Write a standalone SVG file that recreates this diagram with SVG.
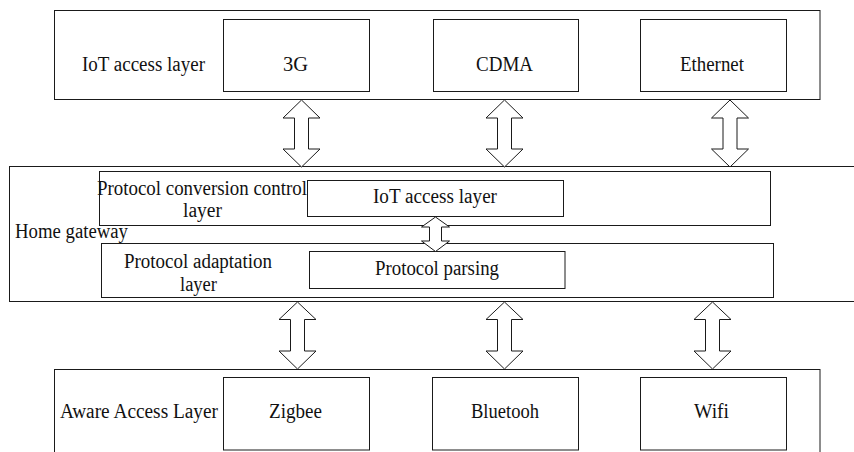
<svg xmlns="http://www.w3.org/2000/svg" width="854" height="452" viewBox="0 0 854 452">
<style>
.box{fill:#fff;stroke:#1a1a1a;stroke-width:1}
.arr{fill:#fff;stroke:#1a1a1a;stroke-width:1;stroke-linejoin:miter}
text{font-family:"Liberation Serif","Times New Roman",serif;font-size:20px;fill:#111}
</style>
<rect width="854" height="452" fill="#fff"/>
<g id="iot-layer">
<rect class="box" x="54.5" y="10.5" width="765.5" height="89"/>
<text x="82" y="71" textLength="123" lengthAdjust="spacingAndGlyphs">IoT access layer</text>
</g>
<g id="n-3g"><rect class="box" x="223.5" y="19.5" width="146" height="72"/><text x="283" y="71" textLength="25" lengthAdjust="spacingAndGlyphs">3G</text></g>
<g id="n-cdma"><rect class="box" x="433.5" y="19.5" width="145" height="72"/><text x="476" y="71" textLength="57" lengthAdjust="spacingAndGlyphs">CDMA</text></g>
<g id="n-ethernet"><rect class="box" x="640.5" y="19.5" width="146" height="72"/><text x="680" y="71" textLength="64" lengthAdjust="spacingAndGlyphs">Ethernet</text></g>

<g id="home-gateway">
<rect class="box" x="9.5" y="166.5" width="860" height="135"/>
<text x="15" y="238" textLength="113" lengthAdjust="spacingAndGlyphs">Home gateway</text>
</g>
<g id="conv-layer">
<rect class="box" x="99.5" y="171.5" width="671" height="54"/>
<text x="97" y="195" textLength="210" lengthAdjust="spacingAndGlyphs">Protocol conversion control</text>
<text x="183" y="217" textLength="39" lengthAdjust="spacingAndGlyphs">layer</text>
</g>
<g id="n-iot-inner"><rect class="box" x="307.5" y="180.5" width="256" height="36"/><text x="373" y="203" textLength="124" lengthAdjust="spacingAndGlyphs">IoT access layer</text></g>
<g id="adapt-layer">
<rect class="box" x="101.5" y="243.5" width="672" height="54"/>
<text x="124" y="268" textLength="148" lengthAdjust="spacingAndGlyphs">Protocol adaptation</text>
<text x="180" y="291" textLength="37" lengthAdjust="spacingAndGlyphs">layer</text>
</g>
<g id="n-parsing"><rect class="box" x="309.5" y="251.5" width="255.5" height="37"/><text x="375" y="275" textLength="124" lengthAdjust="spacingAndGlyphs">Protocol parsing</text></g>

<g id="aware-layer">
<rect class="box" x="54.5" y="369.5" width="765.5" height="100"/>
<text x="60" y="418" textLength="158" lengthAdjust="spacingAndGlyphs">Aware Access Layer</text>
</g>
<g id="n-zigbee"><rect class="box" x="223.5" y="377.5" width="146" height="72.5"/><text x="269" y="418" textLength="53" lengthAdjust="spacingAndGlyphs">Zigbee</text></g>
<g id="n-bluetooh"><rect class="box" x="432.5" y="377.5" width="146" height="72.5"/><text x="471" y="418" textLength="68" lengthAdjust="spacingAndGlyphs">Bluetooh</text></g>
<g id="n-wifi"><rect class="box" x="640.5" y="377.5" width="146" height="72.5"/><text x="694" y="418" textLength="35" lengthAdjust="spacingAndGlyphs">Wifi</text></g>

<g id="connectors">
<polygon class="arr" points="301.5,100 320,118 308.5,118 308.5,149 320,149 301.5,167 283,149 294.5,149 294.5,118 283,118"/>
<polygon class="arr" points="504.5,100 523,118 511.5,118 511.5,149 523,149 504.5,167 486,149 497.5,149 497.5,118 486,118"/>
<polygon class="arr" points="730,100 748.5,118 737,118 737,149 748.5,149 730,167 711.5,149 723,149 723,118 711.5,118"/>
<polygon class="arr" points="435.5,217 449.5,227 441.5,227 441.5,241 449.5,241 435.5,251.5 421.5,241 429.5,241 429.5,227 421.5,227"/>
<polygon class="arr" points="297.5,302 316,319.5 304.5,319.5 304.5,351 316,351 297.5,369 279,351 290.5,351 290.5,319.5 279,319.5"/>
<polygon class="arr" points="504.5,302 523,319.5 511.5,319.5 511.5,351 523,351 504.5,369 486,351 497.5,351 497.5,319.5 486,319.5"/>
<polygon class="arr" points="712.5,302 731,319.5 719.5,319.5 719.5,351 731,351 712.5,369 694,351 705.5,351 705.5,319.5 694,319.5"/>
</g>
</svg>
